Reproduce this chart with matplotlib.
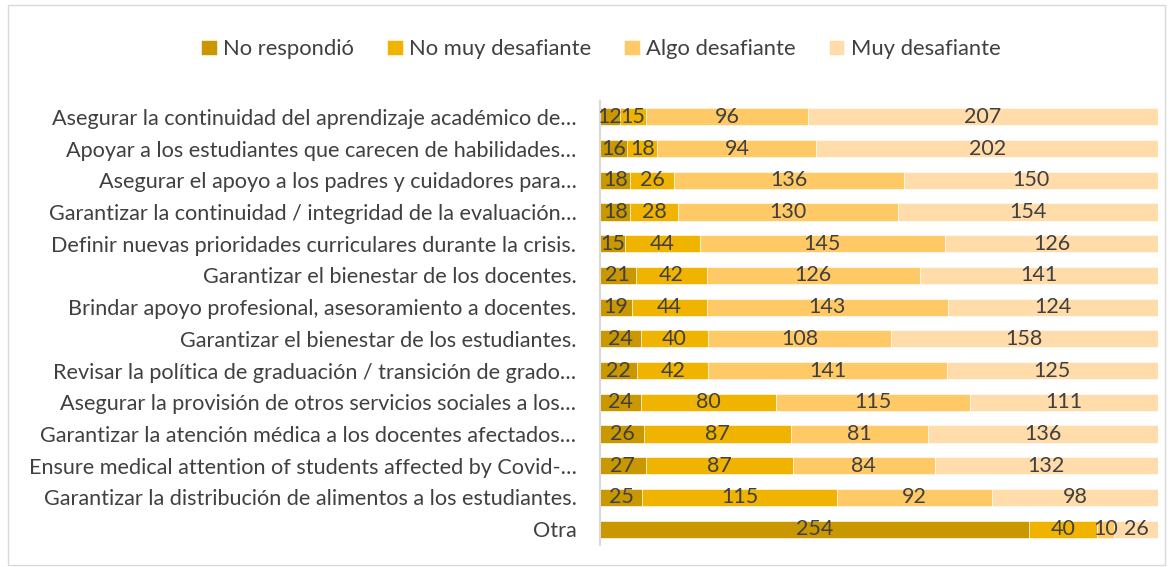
import numpy as np
import matplotlib.pyplot as plt

# Datos
categorias = [
    "Asegurar la continuidad del aprendizaje académico de…",
    "Apoyar a los estudiantes que carecen de habilidades…",
    "Asegurar el apoyo a los padres y cuidadores para…",
    "Garantizar la continuidad / integridad de la evaluación…",
    "Definir nuevas prioridades curriculares durante la crisis.",
    "Garantizar el bienestar de los docentes.",
    "Brindar apoyo profesional, asesoramiento a docentes.",
    "Garantizar el bienestar de los estudiantes.",
    "Revisar la política de graduación / transición de grado…",
    "Asegurar la provisión de otros servicios sociales a los…",
    "Garantizar la atención médica a los docentes afectados…",
    "Ensure medical attention of students affected by Covid-…",
    "Garantizar la distribución de alimentos a los estudiantes.",
    "Otra",
]
no_respondio = [12, 16, 18, 18, 15, 21, 19, 24, 22, 24, 26, 27, 25, 254]
no_muy = [15, 18, 26, 28, 44, 42, 44, 40, 42, 80, 87, 87, 115, 40]
algo = [96, 94, 136, 130, 145, 126, 143, 108, 141, 115, 81, 84, 92, 10]
muy = [207, 202, 150, 154, 126, 141, 124, 158, 125, 111, 136, 132, 98, 26]

series = ["No respondió", "No muy desafiante", "Algo desafiante", "Muy desafiante"]
colores = ["#C99700", "#F0B400", "#FFC966", "#FFDCA9"]

plt.rcParams['font.family'] = ['Lato', 'DejaVu Sans']

fig = plt.figure(figsize=(11.72, 5.67), dpi=100)
ax = fig.add_axes([600 / 1172, 1 - 545 / 567, 558 / 1172, 444 / 567])

y = np.arange(len(categorias))
izq = np.zeros(len(categorias))
for nombre, vals, c in zip(series, [no_respondio, no_muy, algo, muy], colores):
    vals = np.array(vals)
    bars = ax.barh(y, vals, left=izq, height=0.54, color=c, label=nombre,
                   edgecolor='white', linewidth=0.4)
    ax.bar_label(bars, labels=[str(v) for v in vals], label_type='center',
                 fontsize=15.5, color='#404040')
    izq += vals

ax.set_xlim(0, izq.max())
ax.set_ylim(len(categorias) - 0.5, -0.5)
ax.set_yticks(y)
ax.set_yticklabels(categorias, fontsize=15.6, color='#404040')
ax.tick_params(axis='y', length=0, pad=17)
ax.set_xticks([])
for s in ['top', 'right', 'bottom']:
    ax.spines[s].set_visible(False)
ax.spines['left'].set_color('#D9D9D9')
ax.spines['left'].set_linewidth(1.5)

fig.legend(loc='center', bbox_to_anchor=(601 / 1172, 1 - 49 / 567), ncol=4,
           frameon=False, fontsize=15.8, handlelength=0.7, handleheight=0.7,
           handletextpad=0.3, columnspacing=1.5, labelcolor='#404040')

# marco
fig.patches.append(plt.Rectangle((8 / 1172, 2 / 567), 1157 / 1172, 560 / 567,
                                 transform=fig.transFigure, fill=False,
                                 edgecolor='#D9D9D9', linewidth=1))

fig.savefig('out.png', dpi=100)
